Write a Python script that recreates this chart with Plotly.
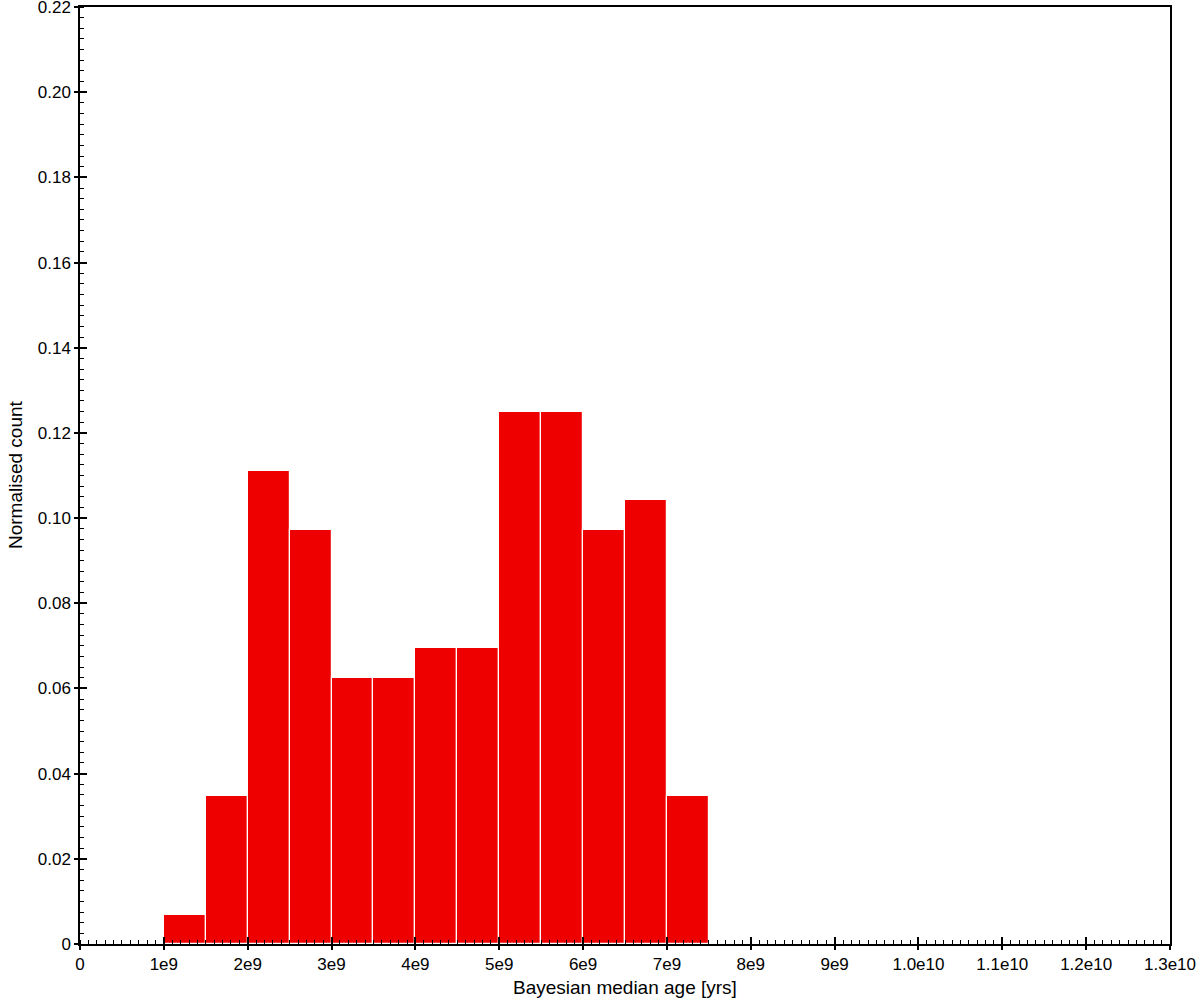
import plotly.graph_objects as go

bin_left = [1.0e9, 1.5e9, 2.0e9, 2.5e9, 3.0e9, 3.5e9, 4.0e9, 4.5e9, 5.0e9, 5.5e9, 6.0e9, 6.5e9, 7.0e9]
bin_width = 0.5e9
norm_count = [0.0069, 0.0347, 0.1111, 0.0972, 0.0625, 0.0625, 0.0694, 0.0694, 0.125, 0.125, 0.0972, 0.1042, 0.0347]

x_tickvals = [i * 1e9 for i in range(14)]
x_ticktext = ["0", "1e9", "2e9", "3e9", "4e9", "5e9", "6e9", "7e9", "8e9", "9e9", "1.0e10", "1.1e10", "1.2e10", "1.3e10"]
y_tickvals = [0.0, 0.02, 0.04, 0.06, 0.08, 0.10, 0.12, 0.14, 0.16, 0.18, 0.20, 0.22]
y_ticktext = ["0", "0.02", "0.04", "0.06", "0.08", "0.10", "0.12", "0.14", "0.16", "0.18", "0.20", "0.22"]

FONT = "Liberation Sans"

fig = go.Figure()
fig.add_trace(go.Bar(
    x=bin_left, y=norm_count, width=[bin_width] * len(bin_left), offset=0,
    marker=dict(color="#ee0000", line=dict(color="white", width=1.2)),
    showlegend=False,
))
fig.add_trace(go.Scatter(x=[0], y=[0], xaxis="x2", yaxis="y2", mode="markers",
                         marker=dict(opacity=0), showlegend=False, hoverinfo="skip"))

xr = [0, 1.3e10]
yr = [0, 0.2200001]

fig.update_layout(
    width=1200, height=999,
    margin=dict(l=80, r=30, t=7, b=55),
    plot_bgcolor="white", paper_bgcolor="white",
    font=dict(family=FONT, size=17, color="black"),
    bargap=0,
    xaxis=dict(
        range=xr, tickvals=x_tickvals, ticktext=x_ticktext, automargin=False,
        ticklabeloverflow="allow",
        ticks="outside", ticklen=4, tickwidth=1.5, tickcolor="black",
        showline=True, linecolor="black", linewidth=1.5, mirror=True,
        showgrid=False, zeroline=False,
        minor=dict(dtick=1e8, ticks="inside", ticklen=4, tickwidth=1.2, tickcolor="black", showgrid=False),
        tickfont=dict(size=17),
    ),
    yaxis=dict(
        range=yr, tickvals=y_tickvals, ticktext=y_ticktext, automargin=False,
        ticklabeloverflow="allow",
        ticks="outside", ticklen=4, tickwidth=1.5, tickcolor="black",
        showline=True, linecolor="black", linewidth=1.5, mirror=True,
        showgrid=False, zeroline=False,
        minor=dict(dtick=0.0025, tick0=0, ticks="inside", ticklen=4, tickwidth=1.2, tickcolor="black", showgrid=False),
        tickfont=dict(size=17),
    ),
    xaxis2=dict(
        range=xr, overlaying="x", side="bottom", tickvals=x_tickvals, showticklabels=False,
        ticks="inside", ticklen=7, tickwidth=1.5, tickcolor="black", automargin=False,
        showline=False, showgrid=False, zeroline=False,
    ),
    yaxis2=dict(
        range=yr, overlaying="y", side="left", tickvals=y_tickvals, showticklabels=False,
        ticks="inside", ticklen=7, tickwidth=1.5, tickcolor="black", automargin=False,
        showline=False, showgrid=False, zeroline=False,
    ),
    annotations=[
        dict(text="Bayesian median age [yrs]", xref="paper", yref="paper",
             x=0.5, y=-(987 - 944) / 937.0, xanchor="center", yanchor="middle",
             showarrow=False, font=dict(size=19)),
        dict(text="Normalised count", xref="paper", yref="paper",
             x=-(80 - 15) / 1090.0, y=(944 - 475) / 937.0, xanchor="center", yanchor="middle",
             textangle=-90, showarrow=False, font=dict(size=19)),
    ],
)

fig.write_html("out.html", config={"displayModeBar": False},
               post_script="document.body.style.margin='0';document.body.style.padding='0';")
